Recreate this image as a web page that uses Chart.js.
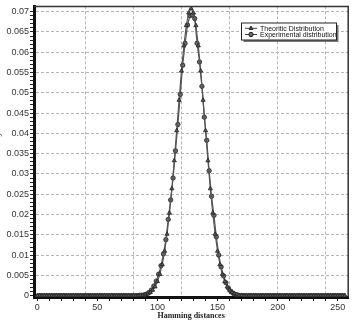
<!DOCTYPE html>
<html>
<head>
<meta charset="utf-8">
<script src="https://cdn.jsdelivr.net/npm/chart.js@4/dist/chart.umd.min.js"></script>
<style>
  html, body { margin: 0; padding: 0; background: #fff; overflow: hidden; }
  #wrap { position: absolute; left: -7px; top: 0; width: 360px; height: 321px; }
</style>
</head>
<body>
<div id="wrap"><canvas id="grafico"></canvas></div>
<script>
// Distribucion teorica: distancias pares 0..256
const teorica = [
  0, 0, 0, 0, 0, 0, 0, 0, 0, 0, 0, 0, 0, 0, 0, 0, 0, 0, 0, 0, 0, 0,
  0, 0, 0, 0, 0, 0, 0, 0, 0, 0, 0, 0, 0, 0, 0, 0, 0, 0, 0, 0, 0,
  0.0001, 0.0001, 0.0003, 0.0005, 0.0008, 0.0014, 0.0022, 0.0035, 0.0053, 0.0077,
  0.0110, 0.0152, 0.0204, 0.0264, 0.0333, 0.0407, 0.0482, 0.0554, 0.0616, 0.0666,
  0.0697, 0.0708, 0.0697,
  0.0666, 0.0616, 0.0554, 0.0482, 0.0407, 0.0333, 0.0264, 0.0204, 0.0152, 0.0110,
  0.0077, 0.0053, 0.0035, 0.0022, 0.0014, 0.0008, 0.0005, 0.0003, 0.0001, 0.0001,
  0, 0, 0, 0, 0, 0, 0, 0, 0, 0, 0, 0, 0, 0, 0, 0, 0, 0, 0, 0, 0, 0,
  0, 0, 0, 0, 0, 0, 0, 0, 0, 0, 0, 0, 0, 0, 0, 0, 0, 0, 0, 0, 0
];
// Distribucion experimental: distancias impares 1..255
const experimental = [
  0, 0, 0, 0, 0, 0, 0, 0, 0, 0, 0, 0, 0, 0, 0, 0, 0, 0, 0, 0, 0,
  0, 0, 0, 0, 0, 0, 0, 0, 0, 0, 0, 0, 0, 0, 0, 0, 0, 0, 0, 0, 0,
  0.0001, 0.0001, 0.0002, 0.0004, 0.0008, 0.0014, 0.0024, 0.0036, 0.0053, 0.0074,
  0.0103, 0.0138, 0.0188, 0.0236, 0.0290, 0.0357, 0.0422, 0.0496, 0.0568, 0.0622,
  0.0667, 0.0690, 0.0692, 0.0683, 0.0622, 0.0576, 0.0516, 0.0440, 0.0383, 0.0308,
  0.0245, 0.0198, 0.0145, 0.0100, 0.0071, 0.0049, 0.0032, 0.0019, 0.0011, 0.0006,
  0.0003, 0.0001,
  0, 0, 0, 0, 0, 0, 0, 0, 0, 0, 0, 0, 0, 0, 0, 0, 0, 0, 0, 0, 0, 0,
  0, 0, 0, 0, 0, 0, 0, 0, 0, 0, 0, 0, 0, 0, 0, 0, 0, 0, 0, 0, 0, 0
];
const distPares = teorica.map((_, i) => 2 * i);
const distImpares = experimental.map((_, i) => 2 * i + 1);

// Marcas de los ejes (cada 10 en x, cada 0.001 en y)
const marcasX = [0, 10, 20, 30, 40, 50, 60, 70, 80, 90, 100, 110, 120, 130, 140, 150,
  160, 170, 180, 190, 200, 210, 220, 230, 240, 250];
const marcasY = Array.from({ length: 71 }, (_, i) => i / 1000);

const etiquetas = ["Theoritic Distribution", "Experimental distribution"];
const tituloX = "Hamming distances";
const tituloY = "Probability";

// Leyenda dibujada dentro del area del grafico
const leyenda = {
  id: "leyenda",
  afterDraw(chart) {
    const ctx = chart.ctx;
    const area = chart.chartArea;
    ctx.save();
    // marco superior y derecho
    ctx.strokeStyle = "#333";
    ctx.lineWidth = 1.5;
    ctx.beginPath();
    ctx.moveTo(area.left, area.top);
    ctx.lineTo(area.right, area.top);
    ctx.lineTo(area.right, area.bottom);
    ctx.stroke();

    const x0 = 248.5, y0 = 23, w = 95, h = 17;
    ctx.fillStyle = "#777";
    ctx.fillRect(x0 + 2, y0 + 2, w, h);
    ctx.fillStyle = "#fff";
    ctx.fillRect(x0, y0, w, h);
    ctx.strokeStyle = "#222";
    ctx.lineWidth = 1;
    ctx.strokeRect(x0, y0, w, h);

    ctx.font = "7px 'Liberation Sans', Arial, sans-serif";
    ctx.textBaseline = "middle";
    chart.data.datasets.forEach((ds, i) => {
      const y = y0 + 5.3 + i * 6.2;
      ctx.strokeStyle = "#444";
      ctx.lineWidth = 1;
      ctx.beginPath();
      ctx.moveTo(x0 + 3.5, y);
      ctx.lineTo(x0 + 15.5, y);
      ctx.stroke();
      ctx.fillStyle = ds.pointBackgroundColor;
      ctx.strokeStyle = ds.pointBorderColor;
      Chart.helpers.drawPoint(ctx, { pointStyle: ds.pointStyle, radius: 2.2, rotation: 0, borderWidth: 0.8 }, x0 + 9.5, y);
      ctx.fillStyle = "#111";
      ctx.fillText(ds.label, x0 + 18.5, y + 0.3);
    });
    ctx.restore();
  }
};

new Chart(document.getElementById("grafico"), {
  type: "line",
  data: {
    datasets: [
      {
        label: etiquetas[0],
        data: teorica.map((v, i) => ({ x: distPares[i], y: v })),
        borderColor: "#555",
        borderWidth: 1.2,
        pointStyle: "triangle",
        pointRadius: 2.4,
        pointBackgroundColor: "#5a5a5a",
        pointBorderColor: "#222",
        pointBorderWidth: 0.8,
        tension: 0,
      },
      {
        label: etiquetas[1],
        data: experimental.map((v, i) => ({ x: distImpares[i], y: v })),
        borderColor: "#555",
        borderWidth: 1.2,
        pointStyle: "circle",
        pointRadius: 2.2,
        pointBackgroundColor: "#6a6a6a",
        pointBorderColor: "#222",
        pointBorderWidth: 0.8,
        tension: 0,
      },
    ],
  },
  options: {
    responsive: true,
    maintainAspectRatio: false,
    animation: false,
    layout: { padding: { top: 5.7, right: 4, bottom: 0, left: 0 } },
    plugins: {
      legend: { display: false },
      tooltip: { enabled: false },
    },
    scales: {
      x: {
        type: "linear",
        min: -2.7,
        max: 258.7,
        afterFit: (s) => { s.height = 24; },
        afterBuildTicks: (s) => { s.ticks = marcasX.map((v) => ({ value: v })); },
        ticks: {
          autoSkip: false,
          maxRotation: 0,
          padding: 1,
          color: "#333",
          font: { family: "'Liberation Sans', Arial, sans-serif", size: 9 },
          callback: (v) => (v % 50 === 0 ? String(v) : ""),
        },
        grid: {
          color: (c) => (c.tick && c.tick.value > 0 && c.tick.value % 40 === 0 ? "#b5b5b5" : "transparent"),
          tickColor: "#222",
          tickLength: 4,
          lineWidth: 1,
        },
        border: { color: "#111", width: 3, dash: [3, 2] },
        title: {
          display: true,
          text: tituloX,
          color: "#222",
          padding: 0,
          font: { family: "'Liberation Serif', 'Times New Roman', serif", size: 8, weight: "bold" },
        },
      },
      y: {
        min: -0.00032,
        max: 0.0713,
        afterFit: (s) => { s.width = 41; },
        afterBuildTicks: (s) => { s.ticks = marcasY.map((v) => ({ value: v })); },
        ticks: {
          autoSkip: false,
          padding: 1,
          color: "#333",
          font: { family: "'Liberation Sans', Arial, sans-serif", size: 9 },
          callback: (v) => {
            const m = Math.round(v * 1000);
            if (m % 5 !== 0) return "";
            return m === 0 ? "0" : String(m / 1000);
          },
        },
        grid: {
          color: (c) => {
            if (!c.tick) return "transparent";
            const m = Math.round(c.tick.value * 1000);
            return m > 0 && m % 5 === 0 ? "#b5b5b5" : "transparent";
          },
          tickColor: "#222",
          tickLength: 4,
          lineWidth: 1,
        },
        border: { color: "#111", width: 3, dash: [3, 2] },
        title: {
          display: true,
          text: tituloY,
          color: "#222",
          padding: 0,
          font: { family: "'Liberation Serif', 'Times New Roman', serif", size: 8, weight: "bold" },
        },
      },
    },
  },
  plugins: [leyenda],
});
</script>
</body>
</html>
